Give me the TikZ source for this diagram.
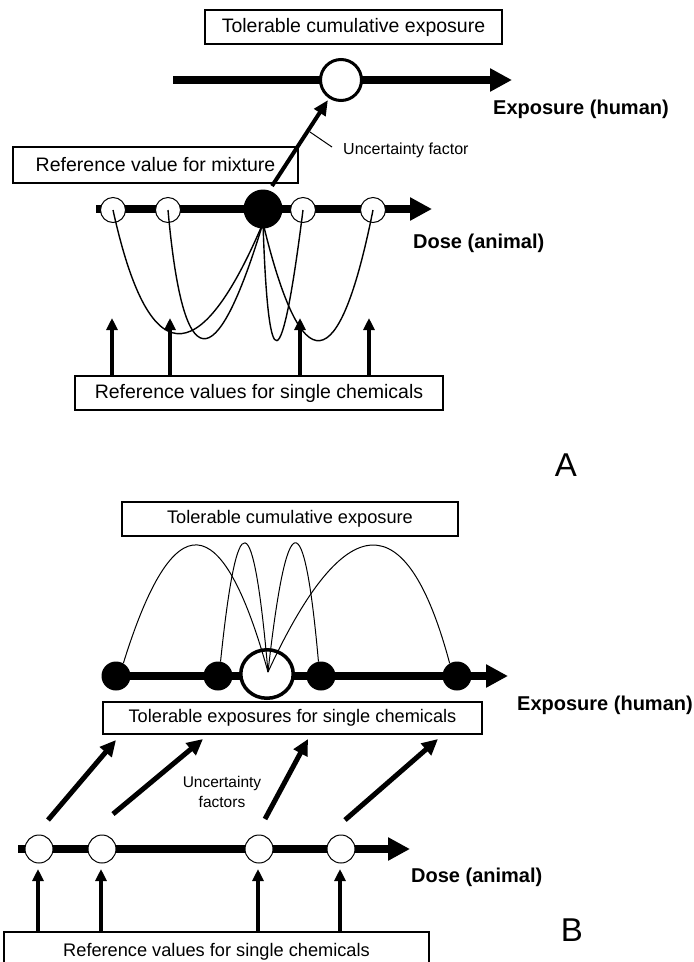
\documentclass[tikz,border=0pt]{standalone}
\usepackage{fontspec}
\setmainfont{Liberation Sans}
\usetikzlibrary{arrows.meta,shapes.geometric}
\begin{document}
\begin{tikzpicture}[x=1pt,y=-1pt,
  boxA/.style={draw,line width=1.2pt,inner sep=0pt,font=\fontsize{19.5}{22}\selectfont},
  boxB/.style={draw,line width=1.2pt,inner sep=0pt,font=\fontsize{18.2}{21}\selectfont},
  lbl/.style={font=\bfseries\fontsize{20}{22}\selectfont,anchor=west,inner sep=0pt},
  axisline/.style={line width=8pt,-{Triangle[length=22pt,width=22pt]}},
  ufarrow/.style={line width=4pt,-{Triangle[length=15pt,width=13pt]}},
  varrow/.style={line width=3.5pt,-{Triangle[length=12pt,width=11pt]}},
  darrow/.style={line width=5pt,-{Triangle[length=16pt,width=15pt]}},
  opensmall/.style={circle,draw,fill=white,line width=1pt,minimum size=25pt,inner sep=0pt},
  blackdot/.style={circle,fill=black,minimum size=29pt,inner sep=0pt},
  thincurve/.style={line width=1.4pt},
  thinarc/.style={line width=1pt},
  panel/.style={font=\fontsize{33}{36}\selectfont,inner sep=0pt}
]
\useasboundingbox (0,0) rectangle (694,962);
\clip (0,0) rectangle (694,962);

% ================= Panel A =================
\node[boxA,minimum width=297pt,minimum height=34pt] (tceboxA) at (353.5,27) {Tolerable cumulative exposure};
\coordinate (axAs) at (173,80);
\coordinate (axAe) at (512,80);
\draw[axisline] (axAs) -- (axAe);
\node[circle,draw,fill=white,line width=3pt,minimum size=41pt,inner sep=0pt] (tceA) at (341,80) {};
\node[lbl] (expA) at (493,109) {Exposure (human)};

\coordinate (ufs) at (272,186);
\draw[ufarrow,shorten >=2pt] (ufs) -- (tceA);
\node[font=\fontsize{16}{18}\selectfont,anchor=west,inner sep=0pt] (ufl) at (343,150) {Uncertainty factor};
\coordinate (ll1) at (310,132);
\draw[line width=1pt] (ll1) -- ([shift={(-11pt,3pt)}]ufl.west);

\node[boxA,minimum width=285pt,minimum height=36pt] (mixbox) at (155.5,165) {Reference value for mixture};

\coordinate (doseAs) at (96,209);
\coordinate (doseAe) at (432,209);
\draw[axisline] (doseAs) -- (doseAe);
\node[lbl] (doseA) at (413,243) {Dose (animal)};

\node[opensmall] (oA1) at (113,210) {};
\node[opensmall] (oA2) at (168,210) {};
\node[opensmall] (oA3) at (303,210) {};
\node[opensmall] (oA4) at (373,210) {};
\node[circle,minimum size=39pt,inner sep=0pt] (mixA) at (263,209) {};

\draw[thincurve] (oA1.center) .. controls (148.3,370.3) and (198.3,375) .. ([yshift=-14pt]mixA.center);
\draw[thincurve] (oA2.center) .. controls (183,377) and (214.7,381.7) .. ([yshift=-14pt]mixA.center);
\draw[thincurve] (oA3.center) .. controls (281.7,379.7) and (268.3,384.3) .. ([yshift=-14pt]mixA.center);
\draw[thincurve] (oA4.center) .. controls (339,379.7) and (302,384.3) .. ([yshift=-14pt]mixA.center);
\node[circle,fill=black,minimum size=39pt,inner sep=0pt] (mixAfill) at (mixA) {};

\node[boxA,minimum width=368pt,minimum height=34pt] (refA) at (259,393) {Reference values for single chemicals};
\coordinate (tA1) at (112,318);
\coordinate (tA2) at (170,318);
\coordinate (tA3) at (300,318);
\coordinate (tA4) at (369,318);
\draw[varrow] (refA.north -| tA1) -- (tA1);
\draw[varrow] (refA.north -| tA2) -- (tA2);
\draw[varrow] (refA.north -| tA3) -- (tA3);
\draw[varrow] (refA.north -| tA4) -- (tA4);

\node[panel] (pA) at (566,465) {A};

% ================= Panel B =================
\node[boxB,minimum width=336pt,minimum height=34pt] (tceboxB) at (290,519) {Tolerable cumulative exposure};
\coordinate (axBs) at (110,676);
\coordinate (axBe) at (508,676);
\draw[axisline] (axBs) -- (axBe);
\node[blackdot] (tB1) at (116,676) {};
\node[blackdot] (tB2) at (218,676) {};
\node[blackdot] (tB3) at (321,676) {};
\node[blackdot] (tB4) at (457,676) {};
\node[ellipse,draw,fill=white,line width=3.5pt,minimum width=52.5pt,minimum height=48.5pt,inner sep=0pt] (tceB) at (267,674) {};
\draw[thinarc] (tB1.60) .. controls (173.3,502.3) and (222,505.7) .. ([shift={(1pt,2pt)}]tceB.center);
\draw[thinarc] (tB2.80) .. controls (237.3,500) and (253.3,503) .. ([shift={(1pt,2pt)}]tceB.center);
\draw[thinarc] (tB3.100) .. controls (304,500) and (287,503) .. ([shift={(1pt,2pt)}]tceB.center);
\draw[thinarc] (tB4.120) .. controls (406.7,502.7) and (345,505.7) .. ([shift={(1pt,2pt)}]tceB.center);
\node[lbl] (expB) at (517,705) {Exposure (human)};

\node[boxB,minimum width=379pt,minimum height=32pt] (tesB) at (292.5,718) {Tolerable exposures for single chemicals};

\coordinate (uB1s) at (48,820);  \coordinate (uB1e) at (116,740);
\coordinate (uB2s) at (113,814); \coordinate (uB2e) at (203,739);
\coordinate (uB3s) at (265,819); \coordinate (uB3e) at (308,739);
\coordinate (uB4s) at (345,820); \coordinate (uB4e) at (438,739);
\draw[darrow] (uB1s) -- (uB1e);
\draw[darrow] (uB2s) -- (uB2e);
\draw[darrow] (uB3s) -- (uB3e);
\draw[darrow] (uB4s) -- (uB4e);
\node[font=\fontsize{15.5}{20}\selectfont,align=center,inner sep=0pt] (ufB) at (222,792) {Uncertainty\\factors};

\coordinate (doseBs) at (18,849);
\coordinate (doseBe) at (410,849);
\draw[axisline] (doseBs) -- (doseBe);
\node[opensmall,minimum size=28pt] (oB1) at (39,849) {};
\node[opensmall,minimum size=28pt] (oB2) at (102,849) {};
\node[opensmall,minimum size=28pt] (oB3) at (259,849) {};
\node[opensmall,minimum size=28pt] (oB4) at (341,849) {};
\node[lbl] (doseB) at (411,877) {Dose (animal)};

\node[boxB,minimum width=425pt,minimum height=40pt] (refB) at (216.5,952) {Reference values for single chemicals};
\coordinate (tB1a) at (38,869);
\coordinate (tB2a) at (101,869);
\coordinate (tB3a) at (258,869);
\coordinate (tB4a) at (340,869);
\draw[varrow,line width=4pt] (refB.north -| tB1a) -- (tB1a);
\draw[varrow,line width=4pt] (refB.north -| tB2a) -- (tB2a);
\draw[varrow,line width=4pt] (refB.north -| tB3a) -- (tB3a);
\draw[varrow,line width=4pt] (refB.north -| tB4a) -- (tB4a);

\node[panel] (pB) at (572,930) {B};
\end{tikzpicture}
\end{document}
